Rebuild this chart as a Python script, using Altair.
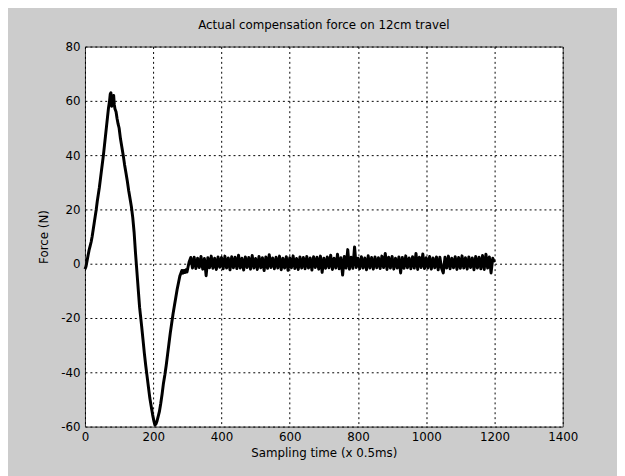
import altair as alt
import pandas as pd

# Main transient (sample index, force N)
curve_x = [0, 3, 6, 9, 12, 15, 18, 21, 24, 27, 30, 33, 36, 39, 42, 45, 48, 51, 54, 57,
           60, 63, 66, 69, 72, 74, 76, 78, 80, 82, 84, 86, 88, 91, 94, 97, 100, 104, 108, 112,
           116, 120, 124, 128, 132, 136, 140, 144, 148, 151, 154, 157, 160, 163, 166, 170, 174, 178, 182, 186,
           190, 194, 198, 202, 205, 208, 211, 214, 218, 222, 226, 230, 234, 238, 242, 246, 250, 254, 258, 262,
           266, 270, 274, 278, 281, 284, 287, 290, 293, 296, 299, 302]
curve_y = [-2, -1, 1, 3, 5, 6.5, 8, 10, 12.5, 15, 17.5, 20, 23, 25.5, 28, 31, 34, 37, 40, 43.5,
           47, 50.5, 54, 57.5, 60, 62.5, 63, 58, 60, 61, 62, 58.5, 57, 56, 53.5, 51.5, 50, 46, 43, 40,
           36.5, 33.5, 30.5, 27, 24, 21, 17, 11.5, 4, -1, -6, -11, -16, -19.5, -23, -28, -33, -37.5, -41.5, -45.5,
           -49.5, -52.5, -55.5, -58, -59.5, -59, -58, -56.5, -54.5, -51.5, -48, -44, -41, -37.5, -33.5, -29.5, -25.5, -22, -18.5, -15.5,
           -12.5, -9.5, -7, -4.5, -3.5, -2.5, -3.5, -2.5, -3.2, -2.2, -3.0, -1.2]

# Steady-state noisy part, every 5 samples from 305 to 1200
noise_y = [0.5, 2.3, -1.6, 2.4, -1.8, 2.0, -1.4, 2.7, -2.0, 1.9,
           -4.4, 2.2, -1.5, 2.8, -1.7, 2.0, -2.1, 2.5, -1.3, 2.3,
           -1.9, 2.8, -1.6, 2.1, -2.2, 2.6, -1.5, 2.4, -1.8, 3.1,
           -1.6, 2.0, -2.3, 2.5, -1.4, 2.3, -2.0, 3.0, -1.6, 1.9,
           -2.1, 2.7, -1.5, 2.2, -2.5, 2.5, -1.7, 3.3, -1.4, 2.1,
           -1.9, 2.4, -1.6, 2.8, -2.2, 2.0, -1.6, 2.6, -2.4, 2.2,
           -1.5, 2.9, -1.8, 1.9, -2.1, 2.5, -1.6, 2.3, -1.9, 2.7,
           -1.6, 2.1, -2.3, 2.6, -1.4, 2.4, -2.0, 2.8, -3.2, 2.0,
           -1.7, 2.5, -1.5, 3.1, -2.1, 2.0, -1.6, 3.5, -1.9, 2.2,
           -4.2, 2.7, -1.6, 5.2, -2.0, 2.4, -1.7, 6.2, -1.4, 2.0,
           -1.9, 2.6, -1.6, 2.1, -2.2, 2.9, -1.6, 2.3, -2.0, 2.5,
           -1.5, 2.2, -1.8, 2.8, -1.4, 3.8, -2.1, 2.4, -1.6, 2.7,
           -2.0, 2.0, -1.6, 2.5, -3.4, 2.3, -1.7, 2.9, -1.5, 2.1,
           -1.9, 2.6, -1.6, 3.8, -2.1, 2.4, -1.4, 3.6, -1.8, 2.2,
           -1.6, 2.7, -2.0, 2.1, -1.5, 2.5, -2.2, 2.4, -1.7, -3.4,
           2.4, -1.6, 2.8, -1.9, 2.0, -1.5, 2.6, -2.1, 2.3, -1.7,
           2.9, -1.6, 2.2, -2.0, 2.5, -1.4, 2.1, -2.2, 2.7, -1.6,
           2.4, -1.9, 3.0, -2.1, 3.5, -1.6, 2.5, -3.4, 2.0, 0.5]
noise_x = list(range(305, 1201, 5))

x_ticks = [0, 200, 400, 600, 800, 1000, 1200, 1400]
y_ticks = [-60, -40, -20, 0, 20, 40, 60, 80]

df = pd.DataFrame({"x": curve_x + noise_x, "y": curve_y + noise_y})

FONT = "DejaVu Sans"
PLAIN = "'' + datum.value"

chart = (
    alt.Chart(df)
    .mark_line(color="black", strokeWidth=3, strokeJoin="round")
    .encode(
        x=alt.X("x:Q", scale=alt.Scale(domain=[0, 1400], nice=False, zero=False),
                axis=alt.Axis(values=x_ticks, title="Sampling time (x 0.5ms)", labelExpr=PLAIN,
                              labelFlush=False, labelPadding=5, titlePadding=5)),
        y=alt.Y("y:Q", scale=alt.Scale(domain=[-60, 80], nice=False, zero=False),
                axis=alt.Axis(values=y_ticks, title="Force (N)", labelExpr=PLAIN,
                              labelPadding=5, titlePadding=10)),
        order="x:Q",
    )
    .properties(
        width=484,
        height=385,
        title=alt.TitleParams("Actual compensation force on 12cm travel", font=FONT,
                              fontSize=12, fontWeight="normal", color="black",
                              anchor="middle", frame="group", offset=9),
        background="#cccccc",
        padding={"left": 78, "top": 36, "right": 55, "bottom": 47},
        autosize=alt.AutoSizeParams(type="none"),
    )
    .configure_view(fill="white", stroke="#333333", strokeWidth=1)
    .configure_axis(
        domain=False, ticks=False, grid=True, gridColor="black", gridOpacity=1,
        gridDash=[2, 3], gridWidth=1,
        labelFont=FONT, labelFontSize=12, labelColor="black",
        titleFont=FONT, titleFontSize=12, titleFontWeight="normal", titleColor="black",
    )
)

chart.save("out.html", embed_options={"renderer": "svg", "actions": False})
